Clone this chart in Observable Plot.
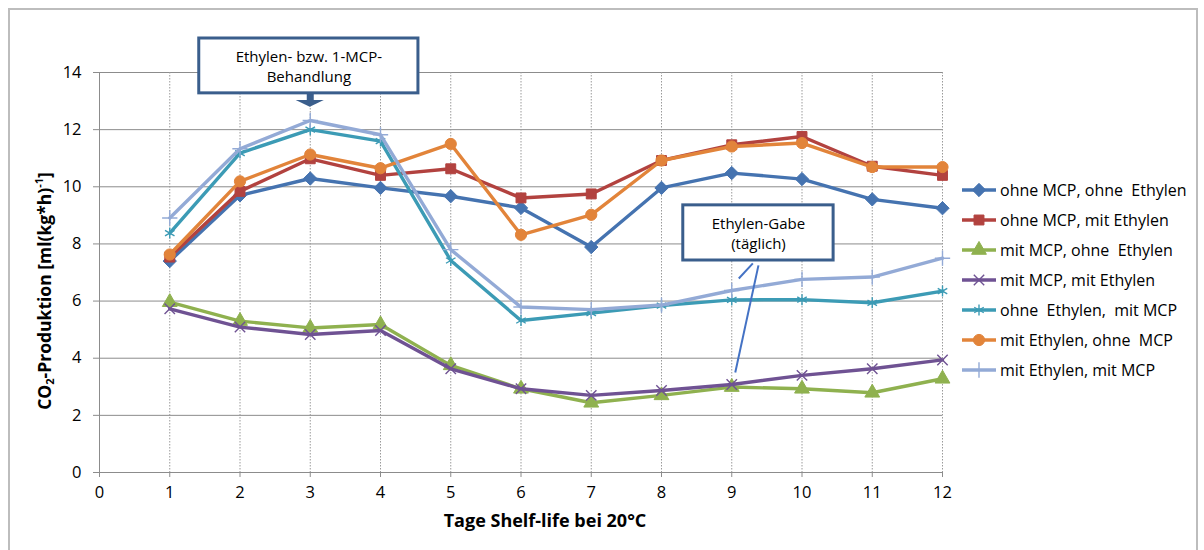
<!DOCTYPE html>
<html><head><meta charset="utf-8">
<script src="https://cdn.jsdelivr.net/npm/d3@7"></script>
<script src="https://cdn.jsdelivr.net/npm/@observablehq/plot@0.6"></script>
<style>
body{margin:0;background:#fff;font-family:"Open Sans",sans-serif;}
#wrap{position:relative;width:1204px;height:550px;overflow:hidden;background:#fff;}
#border{position:absolute;left:8px;top:8px;width:1190px;height:600px;border:2px solid #bdbdbd;box-sizing:border-box;}
#chart{position:absolute;left:0;top:0;}
#legend{position:absolute;left:962px;top:175px;}
.item{display:flex;align-items:center;height:30px;font-size:16px;color:#000;white-space:nowrap;}
.item svg{margin-right:4px;flex:none;}
#ylabel{position:absolute;left:44px;top:291px;transform:translate(-50%,-50%) rotate(-90deg);font-weight:bold;font-size:17.5px;white-space:nowrap;color:#000;}
#ylabel sub{font-size:11px;vertical-align:-3px;}
#ylabel sup{font-size:11px;vertical-align:8px;}
</style></head><body>
<div id="wrap"><div id="border"></div><div id="chart"></div><div id="legend"></div>
<div id="ylabel">CO<sub>2</sub>-Produktion [ml(kg*h)<sup>-1</sup>]</div></div>
<script>
const days = [1,2,3,4,5,6,7,8,9,10,11,12];
const xTicks = [0,1,2,3,4,5,6,7,8,9,10,11,12];
const yTicks = [0,2,4,6,8,10,12,14];
const seriesNames = [
  "ohne MCP, ohne  Ethylen",
  "ohne MCP, mit Ethylen",
  "mit MCP, ohne  Ethylen",
  "mit MCP, mit Ethylen",
  "ohne  Ethylen,  mit MCP",
  "mit Ethylen, ohne  MCP",
  "mit Ethylen, mit MCP"
];
const seriesColors = ["#4573B0","#B2423F","#8FB14F","#6F5293","#3C9BB5","#E2843A","#93AAD6"];
const seriesSymbols = ["diamond2","square","triangle","times","asterisk","circle","plus"];
const seriesR = [6,5.6,5.5,4.8,5.2,5.6,5];

const ohneMcpOhneEth = [7.40,9.70,10.29,9.96,9.67,9.26,7.89,9.96,10.48,10.27,9.56,9.25];
const ohneMcpMitEth  = [7.54,9.84,10.98,10.40,10.63,9.61,9.75,10.92,11.47,11.76,10.72,10.40];
const mitMcpOhneEth  = [5.96,5.30,5.06,5.18,3.75,2.93,2.44,2.70,2.99,2.93,2.79,3.28];
const mitMcpMitEth   = [5.73,5.09,4.83,4.97,3.63,2.93,2.70,2.87,3.08,3.40,3.63,3.94];
const ohneEthMitMcp  = [8.38,11.18,12.00,11.60,7.42,5.32,5.58,5.84,6.04,6.05,5.94,6.35];
const mitEthOhneMcp  = [7.63,10.19,11.13,10.65,11.50,8.32,9.02,10.92,11.41,11.53,10.69,10.69];
const mitEthMitMcp   = [8.91,11.33,12.32,11.82,7.80,5.79,5.70,5.86,6.37,6.76,6.84,7.50];
const allValues = [ohneMcpOhneEth,ohneMcpMitEth,mitMcpOhneEth,mitMcpMitEth,ohneEthMitMcp,mitEthOhneMcp,mitEthMitMcp];

const noteBoxes = [
  {x1:1.42,x2:4.54,y1:13.27,y2:15.19,text:"Ethylen- bzw. 1-MCP-\nBehandlung"},
  {x1:8.31,x2:10.45,y1:7.42,y2:9.35,text:"Ethylen-Gabe\n(täglich)"}
];
const arrowShaft = [{x:3,y1:13.27,y2:13.0}];
const arrowHead = [{x:2.8,y1:13.02,y2:13.02},{x:3,y1:12.78,y2:13.02},{x:3.2,y1:13.02,y2:13.02}];
const leaders = [{x1:9.38,y1:7.25,x2:9.05,y2:3.50},{x1:9.30,y1:7.32,x2:9.10,y2:6.79}];
const xTitle = ["Tage Shelf-life bei 20°C"];

const rows = seriesNames.flatMap((name,i)=>days.map((d,j)=>({series:name,day:d,value:allValues[i][j]})));
const strokeSyms = new Set(["times","asterisk","plus"]);

const seriesMarks = seriesNames.flatMap((name,i)=>{
  const data = rows.filter(r=>r.series===name);
  const sym = seriesSymbols[i];
  const isStroke = strokeSyms.has(sym);
  return [
    Plot.line(data,{x:"day",y:"value",stroke:seriesColors[i],strokeWidth:3.4,strokeLinejoin:"round"}),
    Plot.dot(data,{x:"day",y:"value",symbol:sym,r:seriesR[i],
      fill:isStroke?"none":seriesColors[i],stroke:seriesColors[i],strokeWidth:isStroke?1.4:1})
  ];
});

const chart = Plot.plot({
  width:1204,height:550,
  marginLeft:99,marginRight:262,marginTop:72,marginBottom:78,
  x:{domain:[0,12]},
  y:{domain:[0,14]},
  style:{fontFamily:"'Open Sans',sans-serif",background:"transparent",color:"#000"},
  marks:[
    Plot.gridY(yTicks.filter(t=>t>0),{stroke:"#8c8c8c",strokeOpacity:1,strokeWidth:1}),
    Plot.gridX(days,{stroke:"#9a9a9a",strokeOpacity:1,strokeDasharray:"1.5,1.5"}),
    Plot.ruleX([0],{stroke:"#8c8c8c"}),
    Plot.ruleY([0],{stroke:"#8c8c8c"}),
    Plot.axisY(yTicks,{tickSize:6,tickPadding:12,stroke:"#8c8c8c",fill:"#000",fontSize:16.5,label:null}),
    Plot.axisX(xTicks,{tickSize:5,tickPadding:9,stroke:"#8c8c8c",fill:"#000",fontSize:16.5,label:null}),
    ...seriesMarks,
    Plot.link(leaders,{x1:"x1",y1:"y1",x2:"x2",y2:"y2",stroke:"#4472C4",strokeWidth:2}),
    Plot.ruleX(arrowShaft,{x:"x",y1:"y1",y2:"y2",stroke:"#3A5E8C",strokeWidth:7}),
    Plot.areaY(arrowHead,{x:"x",y1:"y1",y2:"y2",fill:"#3A5E8C"}),
    Plot.rect(noteBoxes,{x1:"x1",x2:"x2",y1:"y1",y2:"y2",fill:"white",stroke:"#3A5E8C",strokeWidth:3}),
    Plot.text(noteBoxes,{x:d=>(d.x1+d.x2)/2,y:d=>(d.y1+d.y2)/2,text:"text",fontSize:15,lineHeight:1.34,fill:"#000"}),
    Plot.text(xTitle,{frameAnchor:"bottom",dy:54,dx:24,fontWeight:"bold",fontSize:18,fill:"#000"})
  ]
});
document.getElementById("chart").appendChild(chart);

const symMap = {diamond2:d3.symbolDiamond2,square:d3.symbolSquare,triangle:d3.symbolTriangle,times:d3.symbolTimes,asterisk:d3.symbolAsterisk,circle:d3.symbolCircle,plus:d3.symbolPlus};
const legend = d3.select("#legend");
seriesNames.forEach((name,i)=>{
  const item = legend.append("div").attr("class","item");
  const svg = item.append("svg").attr("width",34).attr("height",20);
  svg.append("line").attr("x1",0).attr("x2",34).attr("y1",10).attr("y2",10)
    .attr("stroke",seriesColors[i]).attr("stroke-width",3.4);
  const sym = seriesSymbols[i];
  const isStroke = strokeSyms.has(sym);
  svg.append("path").attr("transform","translate(17,10)")
    .attr("d",d3.symbol(symMap[sym],Math.PI*seriesR[i]*seriesR[i])())
    .attr("fill",isStroke?"none":seriesColors[i]).attr("stroke",seriesColors[i])
    .attr("stroke-width",isStroke?1.4:1);
  item.append("span").text(name).style("white-space","pre");
});
</script>
</body></html>
